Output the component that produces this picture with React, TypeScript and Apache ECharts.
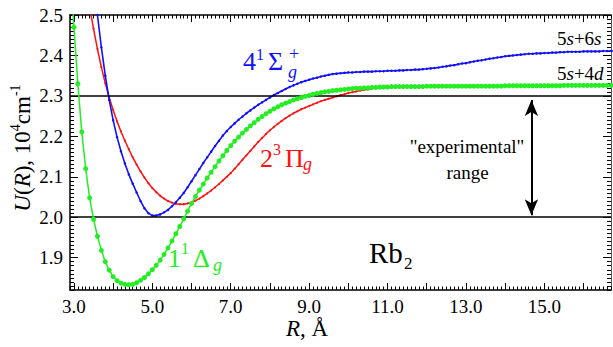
import React, { useEffect, useRef } from "react";
import * as echarts from "echarts";

// Internuclear distance grid, Å
const R_VALUES = [
  2.9,
  3.0, 3.1, 3.2, 3.3, 3.4, 3.5, 3.6, 3.7, 3.8, 3.9,
  4.0, 4.1, 4.2, 4.3, 4.4, 4.5, 4.6, 4.7, 4.8, 4.9,
  5.0, 5.1, 5.2, 5.3, 5.4, 5.5, 5.6, 5.7, 5.8, 5.9,
  6.0, 6.1, 6.2, 6.3, 6.4, 6.5, 6.6, 6.7, 6.8, 6.9,
  7.0, 7.1, 7.2, 7.3, 7.4, 7.5, 7.6, 7.7, 7.8, 7.9,
  8.0, 8.1, 8.2, 8.3, 8.4, 8.5, 8.6, 8.7, 8.8, 8.9,
  9.0, 9.1, 9.2, 9.3, 9.4, 9.5, 9.6, 9.7, 9.8, 9.9,
  10.0, 10.1, 10.2, 10.3, 10.4, 10.5, 10.6, 10.7, 10.8, 10.9,
  11.0, 11.1, 11.2, 11.3, 11.4, 11.5, 11.6, 11.7, 11.8, 11.9,
  12.0, 12.1, 12.2, 12.3, 12.4, 12.5, 12.6, 12.7, 12.8, 12.9,
  13.0, 13.1, 13.2, 13.3, 13.4, 13.5, 13.6, 13.7, 13.8, 13.9,
  14.0, 14.1, 14.2, 14.3, 14.4, 14.5, 14.6, 14.7, 14.8, 14.9,
  15.0, 15.1, 15.2, 15.3, 15.4, 15.5, 15.6, 15.7, 15.8, 15.9,
  16.0, 16.1, 16.2, 16.3, 16.4, 16.5, 16.6, 16.7, 16.8,
];

// 4¹Σg⁺ (blue), 10^4 cm^-1
const U_SIGMA = [
  null,
  null, null, null, null, null, 2.59, 2.50, 2.42, 2.35, 2.290,
  2.240, 2.198, 2.163, 2.133, 2.106, 2.083, 2.061, 2.040, 2.022, 2.010,
  2.004, 2.004, 2.007, 2.012, 2.018, 2.027, 2.037, 2.048, 2.060, 2.074,
  2.089, 2.104, 2.119, 2.134, 2.148, 2.162, 2.176, 2.189, 2.202, 2.213,
  2.223, 2.232, 2.241, 2.249, 2.257, 2.264, 2.271, 2.278, 2.284, 2.290,
  2.296, 2.302, 2.307, 2.312, 2.317, 2.322, 2.326, 2.330, 2.334, 2.337,
  2.340, 2.343, 2.345, 2.348, 2.350, 2.352, 2.354, 2.355, 2.356, 2.357,
  2.358, 2.358, 2.359, 2.359, 2.360, 2.360, 2.360, 2.361, 2.361, 2.361,
  2.362, 2.362, 2.362, 2.363, 2.363, 2.364, 2.364, 2.365, 2.365, 2.366,
  2.367, 2.368, 2.369, 2.370, 2.372, 2.373, 2.375, 2.376, 2.378, 2.380,
  2.381, 2.383, 2.385, 2.387, 2.388, 2.390, 2.392, 2.393, 2.395, 2.396,
  2.398, 2.399, 2.400, 2.401, 2.402, 2.403, 2.404, 2.404, 2.405, 2.405,
  2.406, 2.406, 2.407, 2.407, 2.408, 2.408, 2.409, 2.409, 2.409, 2.409,
  2.410, 2.410, 2.410, 2.410, 2.410, 2.411, 2.411, 2.411, 2.411,
];

// 2³Πg (red)
const U_PI = [
  null,
  null, null, null, 2.58, 2.52, 2.466, 2.416, 2.371, 2.331, 2.296,
  2.265, 2.237, 2.212, 2.189, 2.168, 2.148, 2.130, 2.113, 2.098, 2.084,
  2.072, 2.062, 2.053, 2.046, 2.040, 2.036, 2.033, 2.032, 2.032, 2.034,
  2.037, 2.041, 2.046, 2.052, 2.059, 2.066, 2.074, 2.082, 2.091, 2.100,
  2.109, 2.120, 2.131, 2.142, 2.153, 2.164, 2.175, 2.186, 2.196, 2.206,
  2.215, 2.223, 2.231, 2.238, 2.245, 2.251, 2.257, 2.262, 2.267, 2.271,
  2.275, 2.279, 2.283, 2.287, 2.290, 2.293, 2.296, 2.299, 2.302, 2.304,
  2.307, 2.309, 2.311, 2.313, 2.315, 2.316, 2.318, 2.319, 2.320, 2.320,
  2.321, 2.321, 2.322, 2.322, 2.323, 2.323, 2.323, 2.323, 2.323, 2.323,
  2.324, 2.324, 2.324, 2.324, 2.324, 2.324, 2.324, 2.324, 2.324, 2.324,
  2.324, 2.324, 2.324, 2.324, 2.324, 2.324, 2.324, 2.324, 2.324, 2.324,
  2.325, 2.325, 2.325, 2.325, 2.325, 2.325, 2.325, 2.325, 2.325, 2.325,
  2.325, 2.325, 2.325, 2.325, 2.325, 2.326, 2.326, 2.326, 2.326, 2.326,
  2.326, 2.326, 2.326, 2.326, 2.326, 2.326, 2.326, 2.326, 2.326,
];

// 1¹Δg (green)
const U_DELTA = [
  2.63,
  2.47, 2.330, 2.211, 2.120, 2.048, 1.995, 1.953, 1.918, 1.890, 1.869,
  1.853, 1.843, 1.837, 1.834, 1.833, 1.834, 1.838, 1.844, 1.851, 1.860,
  1.870, 1.881, 1.894, 1.908, 1.924, 1.941, 1.959, 1.977, 1.996, 2.015,
  2.034, 2.051, 2.067, 2.082, 2.097, 2.111, 2.125, 2.139, 2.152, 2.165,
  2.177, 2.188, 2.198, 2.208, 2.217, 2.226, 2.234, 2.242, 2.249, 2.256,
  2.262, 2.268, 2.273, 2.278, 2.282, 2.286, 2.290, 2.293, 2.296, 2.299,
  2.301, 2.304, 2.306, 2.308, 2.310, 2.311, 2.313, 2.314, 2.315, 2.316,
  2.317, 2.318, 2.319, 2.319, 2.320, 2.320, 2.321, 2.321, 2.322, 2.322,
  2.322, 2.323, 2.323, 2.323, 2.323, 2.323, 2.323, 2.323, 2.323, 2.323,
  2.324, 2.324, 2.324, 2.324, 2.324, 2.324, 2.324, 2.324, 2.324, 2.324,
  2.324, 2.324, 2.324, 2.324, 2.324, 2.324, 2.324, 2.324, 2.324, 2.324,
  2.325, 2.325, 2.325, 2.325, 2.325, 2.325, 2.325, 2.325, 2.325, 2.325,
  2.325, 2.325, 2.325, 2.325, 2.325, 2.326, 2.326, 2.326, 2.326, 2.326,
  2.326, 2.326, 2.326, 2.326, 2.326, 2.326, 2.326, 2.326, 2.326,
];

const X_MAJOR_TICKS = [3, 4, 5, 6, 7, 8, 9, 10, 11, 12, 13, 14, 15, 16];
const X_LABELS = [3, 5, 7, 9, 11, 13, 15];
const Y_TICKS = [1.9, 2.0, 2.1, 2.2, 2.3, 2.4, 2.5];
const RANGE_LINES = [2.3, 2.0];
const ARROW_R = 14.67;
const ARROW_TOP = 2.29;
const ARROW_BOTTOM = 2.005;

const X_MIN = 2.9;
const X_MAX = 16.7;
const Y_MIN = 1.82;
const Y_MAX = 2.5;

const BLUE = "#1010ff";
const RED = "#ff1010";
const GREEN = "#22ee22";
const SERIF = "Liberation Serif, serif";

function label(text: string, x: number, y: number, size: number, fill: string, italic = false, align = "left") {
  return {
    type: "text",
    x,
    y,
    silent: true,
    z: 100,
    style: {
      text,
      fill,
      fontSize: size,
      fontFamily: SERIF,
      fontStyle: italic ? "italic" : "normal",
      align,
      verticalAlign: "middle",
      textAlign: align,
      textVerticalAlign: "middle",
    },
  };
}

function richLabel(text: string, x: number, y: number, size: number, rich: any, align = "left", rotation = 0) {
  return {
    type: "text",
    x,
    y,
    rotation,
    silent: true,
    z: 100,
    style: {
      text,
      fill: "#000",
      fontSize: size,
      fontFamily: SERIF,
      lineHeight: size + 4,
      align,
      verticalAlign: "middle",
      textAlign: align,
      textVerticalAlign: "middle",
      rich,
    },
  };
}

function curve(name: string, U: (number | null)[], color: string, size: number, width: number, z: number) {
  return {
    type: "line",
    name,
    xAxisIndex: 0,
    yAxisIndex: 0,
    data: R_VALUES.map((r, i) => [r, U[i]]).filter((p) => p[1] !== null),
    symbol: "circle",
    symbolSize: size,
    showSymbol: true,
    clip: true,
    silent: true,
    z,
    lineStyle: { color, width },
    itemStyle: { color, borderWidth: 0 },
    emphasis: { disabled: true },
  };
}

const axisLineStyle = { color: "#000", width: 1.5 };
const tickStyle = { color: "#000", width: 1 };

function xAxes() {
  const base = { type: "value", min: X_MIN, max: X_MAX, splitLine: { show: false } };
  return [
    {
      ...base,
      position: "bottom",
      axisLine: { show: true, onZero: false, lineStyle: axisLineStyle },
      axisTick: { show: true, inside: true, length: 7, customValues: X_MAJOR_TICKS, lineStyle: tickStyle },
      axisLabel: {
        show: true,
        customValues: X_LABELS,
        formatter: (v: number) => v.toFixed(1),
        color: "#000",
        fontFamily: SERIF,
        fontSize: 19,
        margin: 7,
      },
    },
    {
      ...base,
      position: "bottom",
      interval: 0.1,
      axisLine: { show: false },
      axisTick: { show: true, inside: true, length: 3.5, lineStyle: tickStyle },
      axisLabel: { show: false },
    },
    {
      ...base,
      position: "top",
      axisLine: { show: true, onZero: false, lineStyle: axisLineStyle },
      axisTick: { show: true, inside: true, length: 7, customValues: X_MAJOR_TICKS, lineStyle: tickStyle },
      axisLabel: { show: false },
    },
    {
      ...base,
      position: "top",
      interval: 0.1,
      axisLine: { show: false },
      axisTick: { show: true, inside: true, length: 3.5, lineStyle: tickStyle },
      axisLabel: { show: false },
    },
  ];
}

function yAxes() {
  const base = { type: "value", min: Y_MIN, max: Y_MAX, splitLine: { show: false } };
  return [
    {
      ...base,
      position: "left",
      axisLine: { show: true, onZero: false, lineStyle: axisLineStyle },
      axisTick: { show: true, inside: true, length: 8, customValues: Y_TICKS, lineStyle: tickStyle },
      axisLabel: {
        show: true,
        customValues: Y_TICKS,
        formatter: (v: number) => v.toFixed(1),
        color: "#000",
        fontFamily: SERIF,
        fontSize: 19,
        margin: 7,
      },
    },
    {
      ...base,
      position: "left",
      interval: 0.01,
      axisLine: { show: false },
      axisTick: { show: true, inside: true, length: 4, lineStyle: tickStyle },
      axisLabel: { show: false },
    },
    {
      ...base,
      position: "right",
      axisLine: { show: true, onZero: false, lineStyle: { color: "#555", width: 1 } },
      axisTick: { show: true, inside: true, length: 8, customValues: Y_TICKS, lineStyle: tickStyle },
      axisLabel: { show: false },
    },
    {
      ...base,
      position: "right",
      interval: 0.01,
      axisLine: { show: false },
      axisTick: { show: true, inside: true, length: 4, lineStyle: tickStyle },
      axisLabel: { show: false },
    },
  ];
}

export default function App() {
  const ref = useRef<HTMLDivElement>(null);

  useEffect(() => {
    if (!ref.current) return;
    const chart = echarts.init(ref.current, undefined, { renderer: "svg" });
    const ital = (size: number) => ({ fontSize: size, fontFamily: SERIF, fontStyle: "italic", lineHeight: size + 4 });
    const sup = (size: number) => ({ fontSize: size, fontFamily: SERIF, lineHeight: size, verticalAlign: "top" });

    const option: any = {
      animation: false,
      backgroundColor: "#ffffff",
      textStyle: { fontFamily: SERIF },
      grid: { left: 70, top: 15, right: 2, bottom: 57, containLabel: false, outerBoundsMode: "none" },
      xAxis: xAxes(),
      yAxis: yAxes(),
      series: [
        curve("2³Πg", U_PI, RED, 2, 1.5, 3),
        curve("4¹Σg+", U_SIGMA, BLUE, 2.5, 1.6, 4),
        curve("1¹Δg", U_DELTA, GREEN, 5, 1.5, 5),
        {
          type: "line",
          name: "range lines",
          xAxisIndex: 0,
          yAxisIndex: 0,
          data: [],
          silent: true,
          markLine: {
            silent: true,
            symbol: ["none", "none"],
            label: { show: false },
            emphasis: { disabled: true },
            lineStyle: { color: "#000", width: 1.5, type: "solid" },
            data: RANGE_LINES.map((v) => ({ yAxis: v })),
          },
        },
        {
          type: "line",
          name: "arrow",
          xAxisIndex: 0,
          yAxisIndex: 0,
          data: [],
          silent: true,
          markLine: {
            silent: true,
            symbol: ["arrow", "arrow"],
            symbolSize: [10, 16],
            label: { show: false },
            emphasis: { disabled: true },
            lineStyle: { color: "#000", width: 2, type: "solid" },
            data: [[{ coord: [ARROW_R, ARROW_TOP] }, { coord: [ARROW_R, ARROW_BOTTOM] }]],
          },
        },
      ],
      graphic: {
        elements: [
          // 4¹Σg⁺
          label("4", 243, 61.2, 26, BLUE),
          label("1", 256, 54, 16, BLUE),
          label("Σ", 268, 61.2, 26, BLUE),
          label("+", 289, 53.5, 18, BLUE),
          label("g", 288, 72, 18, BLUE, true),
          // 2³Πg
          label("2", 260, 158.2, 26, RED),
          label("3", 273, 149.6, 16, RED),
          label("Π", 285, 158.2, 26, RED),
          label("g", 303, 164.2, 18, RED, true),
          // 1¹Δg
          label("1", 168, 258.2, 26, GREEN),
          label("1", 181, 248.5, 16, GREEN),
          label("Δ", 193, 258.2, 26, GREEN),
          label("g", 213, 265, 18, GREEN, true),
          // Rb₂
          label("Rb", 369, 253.2, 29, "#000"),
          label("2", 404, 263.3, 17, "#000"),
          // asymptotes
          richLabel("5{i|s}+6{i|s}", 557, 38.6, 19, { i: ital(19) }),
          richLabel("5{i|s}+4{i|d}", 557, 73.6, 19, { i: ital(19) }),
          // range note
          label('"experimental"', 467, 146.4, 19, "#000", false, "center"),
          label("range", 467.5, 172.4, 19, "#000", false, "center"),
          // axis titles
          richLabel("{i|R}, Å", 307, 328, 23, { i: ital(23) }, "center"),
          richLabel(
            "{i|U}({i|R}), 10{s|4}cm{s|-1}",
            22,
            148,
            23,
            { i: ital(23), s: sup(14) },
            "center",
            Math.PI / 2
          ),
        ],
      },
    };

    chart.setOption(option);
    return () => chart.dispose();
  }, []);

  return (
    <div
      ref={ref}
      style={{ position: "fixed", left: 0, top: 0, width: 613, height: 347, background: "#fff" }}
    />
  );
}
